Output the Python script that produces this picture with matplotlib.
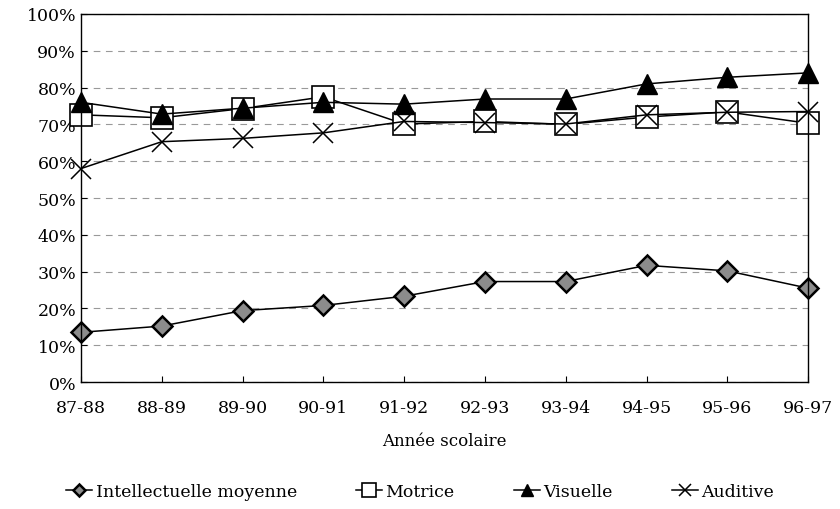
import matplotlib.pyplot as plt
from matplotlib.ticker import PercentFormatter

plt.rcParams["font.family"] = ["DejaVu Serif"]

annees = ["87-88", "88-89", "89-90", "90-91", "91-92", "92-93", "93-94", "94-95", "95-96", "96-97"]
intellectuelle = [13.5, 15.2, 19.4, 20.8, 23.3, 27.3, 27.3, 31.7, 30.2, 25.5]
motrice = [72.6, 71.8, 74.3, 77.5, 70.1, 70.8, 70.0, 72.0, 73.4, 70.3]
visuelle = [76.0, 72.8, 74.4, 76.0, 75.5, 76.9, 76.9, 81.0, 82.8, 84.0]
auditive = [58.0, 65.3, 66.2, 67.7, 70.8, 70.5, 70.1, 72.6, 73.3, 73.5]

fig = plt.figure(figsize=(8.4, 5.1), dpi=100)
ax = fig.add_axes([0.0964, 0.249, 0.8656, 0.7216])
x = range(len(annees))

ax.plot(x, intellectuelle, color="black", lw=1.1, marker="D", ms=10,
        mfc="#8c8c8c", mec="black", mew=1.8, label="Intellectuelle moyenne", clip_on=False)
ax.plot(x, motrice, color="black", lw=1.1, marker="s", ms=16,
        mfc="white", mec="black", mew=1.2, label="Motrice", clip_on=False)
ax.plot(x, visuelle, color="black", lw=1.1, marker="^", ms=14,
        mfc="black", mec="black", label="Visuelle", clip_on=False)
ax.plot(x, auditive, color="black", lw=1.1, marker="x", ms=14,
        mec="black", mew=1.1, label="Auditive", clip_on=False)

ax.set_xlim(0, len(annees) - 1)
ax.set_ylim(0, 100)
ax.set_xticks(list(x))
ax.set_xticklabels(annees, fontsize=12.5)
ax.set_yticks(range(0, 101, 10))
ax.yaxis.set_major_formatter(PercentFormatter(decimals=0))
ax.tick_params(axis="y", labelsize=12.5, direction="in", length=4)
ax.tick_params(axis="x", direction="in", length=4, pad=12)
ax.grid(axis="y", color="#999999", linestyle=(0, (6, 5)), lw=0.8)
for s in ax.spines.values():
    s.set_linewidth(1.0)
ax.set_xlabel("Année scolaire", fontsize=12, labelpad=12)

handles, labels = ax.get_legend_handles_labels()
leg = fig.legend(handles, labels, loc="center", bbox_to_anchor=(0.5, 0.035), ncol=4,
                 frameon=False, fontsize=12.5, markerscale=0.6, handlelength=1.5,
                 handletextpad=0.2, columnspacing=3.4)

fig.savefig("out.png", dpi=100)
